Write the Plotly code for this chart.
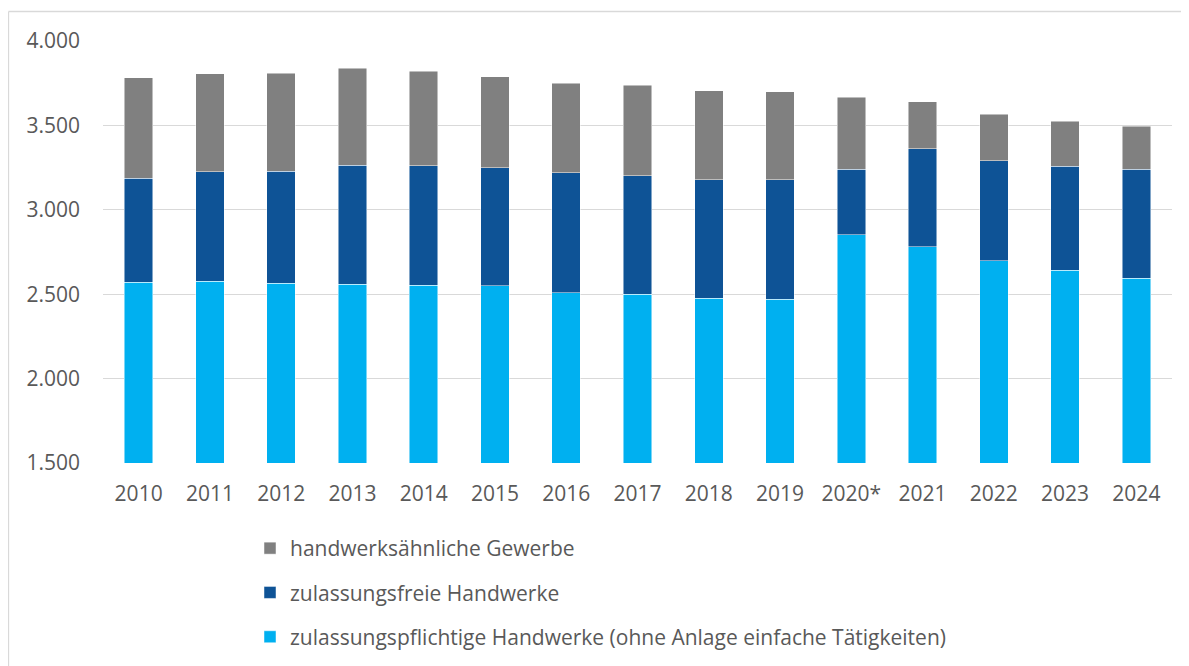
import plotly.graph_objects as go

years = ["2010", "2011", "2012", "2013", "2014", "2015", "2016", "2017",
         "2018", "2019", "2020*", "2021", "2022", "2023", "2024"]
zulassungspflichtig = [2572, 2578, 2566, 2560, 2553, 2549, 2509, 2501,
                       2477, 2471, 2851, 2780, 2697, 2643, 2596]
zulassungsfrei = [615, 646, 662, 705, 708, 700, 711, 701,
                  701, 707, 389, 582, 594, 616, 644]
handwerksaehnlich = [594, 581, 580, 575, 561, 538, 531, 537,
                     526, 520, 428, 277, 276, 267, 256]
y_ticks = [1500, 2000, 2500, 3000, 3500, 4000]
y_tick_labels = ["1.500", "2.000", "2.500", "3.000", "3.500", "4.000"]

FONT = "Open Sans"
TXT = "#595959"
edge = dict(color="rgba(255,255,255,0.6)", width=0.8)

fig = go.Figure()
fig.add_trace(go.Bar(x=years, y=zulassungspflichtig,
                     name="zulassungspflichtige Handwerke (ohne Anlage einfache Tätigkeiten)",
                     marker=dict(color="#00B0F0", line=edge), legendrank=3,
                     legendgroup="c"))
fig.add_trace(go.Bar(x=years, y=zulassungsfrei, name="zulassungsfreie Handwerke",
                     marker=dict(color="#0E5396", line=edge), legendrank=2,
                     legendgroup="b"))
fig.add_trace(go.Bar(x=years, y=handwerksaehnlich, name="handwerksähnliche Gewerbe",
                     marker=dict(color="#808080", line=edge), legendrank=1,
                     legendgroup="a"))

# the page has an 8px body margin, so the figure is 8px smaller
W, H = 1181, 658
L, R, T, B = 95, 17, 33, 203
pw, ph = W - L - R, H - T - B

def px_x(p):
    return (p - L) / pw

def px_y(p):
    return (H - B - p) / ph

fig.update_layout(
    width=W, height=H,
    barmode="stack", bargap=0.6,
    paper_bgcolor="white", plot_bgcolor="white",
    margin=dict(l=L, r=R, t=T, b=B, autoexpand=False),
    font=dict(family=FONT, size=21, color=TXT),
    xaxis=dict(showgrid=False, showline=False, ticks="", ticklabelstandoff=16,
               tickfont=dict(size=21, color=TXT)),
    yaxis=dict(range=[1500, 4000], tickvals=y_ticks, ticktext=y_tick_labels,
               showgrid=True, gridcolor="#D9D9D9", gridwidth=1, zeroline=False,
               showline=False, ticks="", ticklabelstandoff=22,
               tickfont=dict(size=21, color=TXT)),
    legend=dict(xref="container", yref="container", x=242 / W, y=1 - 520 / H,
                xanchor="left", yanchor="top", orientation="v",
                tracegroupgap=14, font=dict(size=21, color=TXT),
                bgcolor="rgba(0,0,0,0)"),
    showlegend=True,
)

# outer chart frame (top and left edges visible)
fig.add_shape(type="line", xref="paper", yref="paper",
              x0=px_x(0.5), x1=px_x(1200), y0=px_y(3.5), y1=px_y(3.5),
              line=dict(color="#D9D9D9", width=1.3))
fig.add_shape(type="line", xref="paper", yref="paper",
              x0=px_x(0.5), x1=px_x(0.5), y0=px_y(3.5), y1=px_y(700),
              line=dict(color="#D9D9D9", width=1.3))

fig.write_html("out.html")
